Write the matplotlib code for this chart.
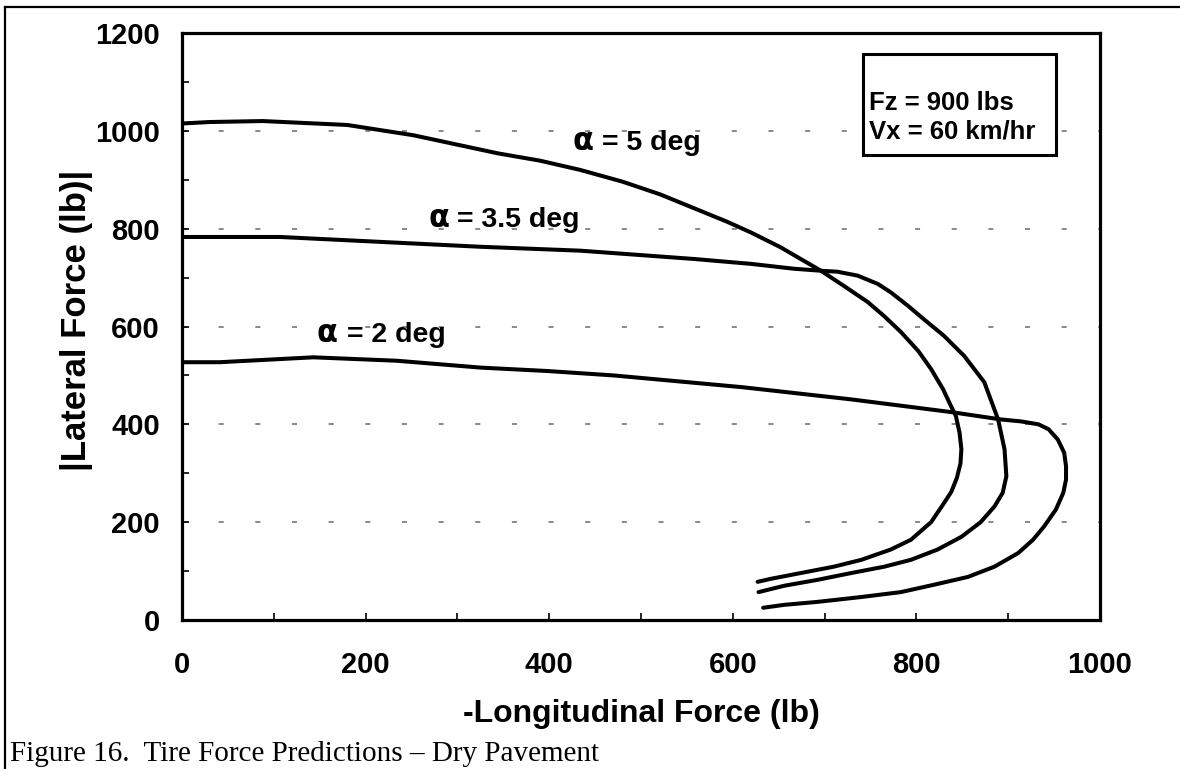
import matplotlib
matplotlib.use("Agg")
import matplotlib.pyplot as plt
from matplotlib.lines import Line2D
from matplotlib.patches import Rectangle

#---------Datos---------#
# alpha = 5 deg
x5 = [0, 30, 88, 180, 252, 344, 390, 434, 480, 521, 594, 620, 652, 696, 721, 747, 765, 783, 802, 816, 829, 837, 843, 847, 849, 848, 844, 838, 829, 816, 794, 772, 740, 710, 674, 641, 627]
y5 = [1015, 1018, 1020, 1012, 991, 954, 939, 920, 896, 870, 814, 792, 762, 714, 683, 650, 621, 589, 550, 513, 472, 440, 417, 383, 349, 320, 290, 262, 236, 200, 164, 144, 123, 109, 96, 84, 78]
# alpha = 3.5 deg
x35 = [0, 107, 216, 325, 434, 558, 620, 667, 696, 714, 736, 758, 772, 791, 808, 830, 852, 874, 889, 896, 898, 894, 885, 870, 849, 823, 794, 765, 729, 692, 656, 628]
y35 = [783, 783, 773, 763, 755, 738, 728, 718, 714, 712, 704, 687, 670, 642, 615, 581, 540, 486, 410, 349, 294, 260, 232, 200, 170, 144, 123, 109, 96, 82, 70, 57]
# alpha = 2 deg
x2 = [0, 41, 143, 234, 325, 398, 470, 610, 729, 838, 892, 914, 933, 944, 954, 961, 963, 963, 960, 952, 939, 927, 911, 885, 856, 819, 783, 740, 692, 656, 633]
y2 = [527, 527, 537, 530, 516, 509, 500, 476, 451, 425, 410, 406, 400, 390, 369, 342, 314, 287, 260, 226, 191, 164, 137, 109, 88, 72, 57, 47, 37, 31, 25]

etiquetas = ["= 5 deg", "= 3.5 deg", "= 2 deg"]
condiciones = ["Fz = 900 lbs", "Vx = 60 km/hr"]
xticks = [0, 200, 400, 600, 800, 1000]
yticks = [0, 200, 400, 600, 800, 1000, 1200]
#---------Datos---------#

fig = plt.figure(figsize=(11.8, 7.69), dpi=100)
ax = fig.add_axes([182/1180, 1-620/769, (1100-182)/1180, (620-33)/769])

ax.set_xlim(0, 1000)
ax.set_ylim(0, 1200)

ax.yaxis.grid(True, color="#808080", linewidth=1.3, linestyle=(0, (2.8, 17.5)))
ax.set_axisbelow(True)

for xs, ys in [(x5, y5), (x35, y35), (x2, y2)]:
    ax.plot(xs, ys, color="black", linewidth=2.9, solid_capstyle="round", solid_joinstyle="round")

fuente = "Liberation Sans"
ax.set_xticks(xticks)
ax.set_yticks(yticks)
ax.set_xticks(range(100, 1000, 200), minor=True)
ax.set_yticks(range(100, 1200, 200), minor=True)
ax.tick_params(which="both", direction="in", length=5, width=1.2, colors="black")
ax.tick_params(axis="x", which="major", pad=22)
ax.tick_params(axis="y", which="major", pad=16)
for lab in ax.get_xticklabels() + ax.get_yticklabels():
    lab.set_fontfamily(fuente)
    lab.set_fontweight("bold")
    lab.set_fontsize(21)

for s in ax.spines.values():
    s.set_linewidth(2.3)

ax.set_xlabel("-Longitudinal Force (lb)", fontfamily=fuente, fontweight="bold", fontsize=23, labelpad=15)
ax.set_ylabel("|Lateral Force (lb)|", fontfamily=fuente, fontweight="bold", fontsize=25, labelpad=1)
ax.yaxis.set_label_coords(-0.097, 0.51)

# etiquetas alpha
pos_alpha = [(425, 960), (268, 804), (147, 568)]
pos_resto = [(458, 960), (300, 804), (180, 568)]
for (xa, ya), (xr, yr), txt in zip(pos_alpha, pos_resto, etiquetas):
    ax.text(xa, ya, "α", fontfamily="DejaVu Sans", fontweight="bold", fontsize=22, va="baseline", ha="left")
    ax.text(xr, yr, txt, fontfamily=fuente, fontweight="bold", fontsize=20.5, va="baseline", ha="left")

# caja de condiciones
ax.add_patch(Rectangle((742, 950), 210, 207, facecolor="white", edgecolor="black", linewidth=2.2, zorder=3))
ax.text(748, 1042, condiciones[0], fontfamily=fuente, fontweight="bold", fontsize=18.5, va="baseline", ha="left", zorder=4)
ax.text(748, 984, condiciones[1], fontfamily=fuente, fontweight="bold", fontsize=18.5, va="baseline", ha="left", zorder=4)

# marco exterior
fig.add_artist(Line2D([5/1180, 1], [1-7/769, 1-7/769], color="black", linewidth=1.6))
fig.add_artist(Line2D([5/1180, 5/1180], [0, 1-7/769], color="black", linewidth=1.6))

fig.text(10/1180, 1-761/769, "Figure 16.  Tire Force Predictions \u2013 Dry Pavement",
         fontfamily="Liberation Serif", fontsize=21, va="baseline", ha="left")

fig.savefig("out.png", dpi=100)
